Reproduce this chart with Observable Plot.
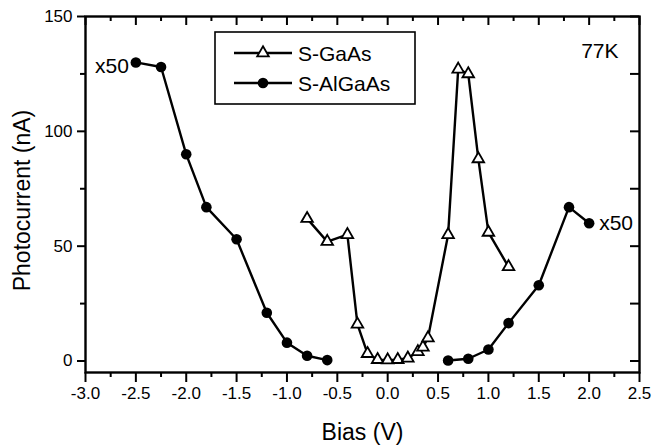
<!DOCTYPE html>
<html>
<head>
<meta charset="utf-8">
<script src="https://cdn.jsdelivr.net/npm/d3@7"></script>
<script src="https://cdn.jsdelivr.net/npm/@observablehq/plot@0.6"></script>
<style>
  html, body { margin: 0; padding: 0; background: #fff; }
</style>
</head>
<body>
<div id="chart"></div>
<script>
// ---- data ----
const gaasBias    = [-0.8, -0.6, -0.4, -0.3, -0.2, -0.1, 0.0, 0.1, 0.2, 0.3, 0.35, 0.4, 0.6, 0.7, 0.8, 0.9, 1.0, 1.2];
const gaasCurrent = [62, 52, 55, 16, 3.2, 0.6, 0.4, 0.6, 1.2, 4, 6, 10, 55, 127, 125, 88, 56, 41];

const alNegBias    = [-2.5, -2.25, -2.0, -1.8, -1.5, -1.2, -1.0, -0.8, -0.6];
const alNegCurrent = [130, 128, 90, 67, 53, 21, 8, 2.3, 0.4];
const alPosBias    = [0.6, 0.8, 1.0, 1.2, 1.5, 1.8, 2.0];
const alPosCurrent = [0.2, 1, 5, 16.5, 33, 67, 60];

const seriesNames = ["S-GaAs", "S-AlGaAs"];
const scaleNote = "x50";
const tempNote = "77K";
const xLabel = "Bias (V)";
const yLabel = "Photocurrent (nA)";

const xMajor = [-3.0, -2.5, -2.0, -1.5, -1.0, -0.5, 0.0, 0.5, 1.0, 1.5, 2.0, 2.5];
const xMinor = [-2.75, -2.25, -1.75, -1.25, -0.75, -0.25, 0.25, 0.75, 1.25, 1.75, 2.25];
const yMajor = [0, 50, 100, 150];
const yMinor = [25, 75, 125];

// ---- tables ----
const gaas = gaasBias.map((b, i) => ({bias: b, current: gaasCurrent[i]}));
const algaas = [
  ...alNegBias.map((b, i) => ({bias: b, current: alNegCurrent[i], branch: "neg"})),
  ...alPosBias.map((b, i) => ({bias: b, current: alPosCurrent[i], branch: "pos"}))
];
const noteNeg = [algaas.find(d => d.branch === "neg")];
const notePos = [algaas.filter(d => d.branch === "pos").at(-1)];

const FONT = "'Liberation Sans', Arial, Helvetica, sans-serif";
const W = 652, H = 447, ML = 85, MR = 13, MT = 16, MB = 75;
const PW = W - ML - MR, PH = H - MT - MB;

function legend(index, scales, values, dims) {
  const L = dims.marginLeft, T = dims.marginTop;
  const g = d3.create("svg:g").attr("font-family", FONT).attr("font-size", 21);
  g.append("rect").attr("x", L + 130).attr("y", T + 16).attr("width", 200).attr("height", 72)
    .attr("fill", "white").attr("stroke", "black").attr("stroke-width", 1.6);
  seriesNames.forEach((name, i) => {
    const cy = T + 37 + i * 30;
    g.append("line").attr("x1", L + 149).attr("x2", L + 207).attr("y1", cy).attr("y2", cy)
      .attr("stroke", "black").attr("stroke-width", 2.4);
    if (i === 0) {
      g.append("path").attr("d", d3.symbol(d3.symbolTriangle, Math.PI * 4.3 * 4.3)())
        .attr("transform", `translate(${L + 178},${cy})`)
        .attr("fill", "white").attr("stroke", "black").attr("stroke-width", 1.8);
    } else {
      g.append("circle").attr("cx", L + 178).attr("cy", cy).attr("r", 5.3).attr("fill", "black");
    }
    g.append("text").attr("x", L + 213).attr("y", cy).attr("dy", "0.36em")
      .attr("text-anchor", "start").attr("fill", "black").text(name);
  });
  return g.node();
}

const chart = Plot.plot({
  width: W, height: H,
  marginLeft: ML, marginRight: MR, marginTop: MT, marginBottom: MB,
  x: {domain: [-3, 2.5]},
  y: {domain: [-5, 150]},
  style: {fontFamily: FONT, background: "white", color: "black", overflow: "visible"},
  marks: [
    // bottom axis (outward ticks)
    Plot.axisX({anchor: "bottom", ticks: xMajor, tickSize: 10, tickPadding: 4, strokeWidth: 2,
      tickFormat: d => d.toFixed(1), fontSize: 17, label: null}),
    Plot.axisX({anchor: "bottom", ticks: xMinor, tickSize: 5, strokeWidth: 2, tickFormat: () => "", label: null}),
    // left axis (outward ticks)
    Plot.axisY({anchor: "left", ticks: yMajor, tickSize: 8, tickPadding: 5, strokeWidth: 2,
      tickFormat: d => String(d), fontSize: 17, label: null}),
    Plot.axisY({anchor: "left", ticks: yMinor, tickSize: 5, strokeWidth: 2, tickFormat: () => "", label: null}),
    // top inward ticks
    Plot.tickX(xMajor, {x: d => d, insetBottom: PH - 9, strokeWidth: 2}),
    Plot.tickX(xMinor, {x: d => d, insetBottom: PH - 5, strokeWidth: 2}),
    // right inward ticks
    Plot.tickY([...yMajor, ...yMinor], {y: d => d, insetLeft: PW - 9, strokeWidth: 2}),
    Plot.frame({stroke: "black", strokeWidth: 2.4}),
    // axis titles
    Plot.text([xLabel], {frameAnchor: "bottom", dy: 60, text: d => d, textAnchor: "middle", lineAnchor: "middle", fontSize: 23, fill: "black"}),
    Plot.text([yLabel], {frameAnchor: "left", dx: -63, dy: 6, rotate: -90, text: d => d, textAnchor: "middle", lineAnchor: "middle", fontSize: 23, fill: "black"}),
    // data
    Plot.line(gaas, {x: "bias", y: "current", stroke: "black", strokeWidth: 2.4}),
    Plot.line(algaas, {x: "bias", y: "current", z: "branch", stroke: "black", strokeWidth: 2.4}),
    Plot.dot(gaas, {x: "bias", y: "current", symbol: "triangle", r: 4.3, fill: "white", stroke: "black", strokeWidth: 1.8}),
    Plot.dot(algaas, {x: "bias", y: "current", r: 5.3, fill: "black", stroke: "none"}),
    // annotations
    Plot.text(noteNeg, {x: "bias", y: "current", text: () => scaleNote, textAnchor: "end", dx: -7, dy: 4, fontSize: 21, fill: "black"}),
    Plot.text(notePos, {x: "bias", y: "current", text: () => scaleNote, textAnchor: "start", dx: 10, dy: 0, fontSize: 21, fill: "black"}),
    Plot.text([tempNote], {frameAnchor: "top-right", text: d => d, textAnchor: "end", lineAnchor: "top", dx: -21, dy: 27, fontSize: 21, fill: "black"}),
    legend
  ]
});
document.getElementById("chart").appendChild(chart);
</script>
</body>
</html>
